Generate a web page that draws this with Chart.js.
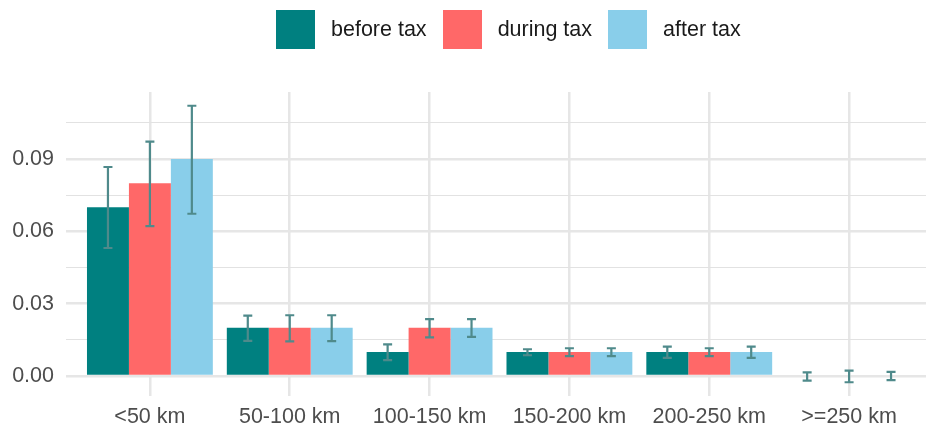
<!DOCTYPE html>
<html>
<head>
<meta charset="utf-8">
<script src="https://cdn.jsdelivr.net/npm/chart.js@4"></script>
<style>
  body { margin: 0; background: #fff; }
  #wrap { position: relative; width: 926px; height: 430px; }
  #legend {
    position: absolute; top: 10px; left: 276px;
    display: flex; align-items: center;
    font-family: "Liberation Sans", Arial, sans-serif; font-size: 21.5px; color: #1a1a1a;
  }
  .item { display: flex; align-items: center; margin-right: 16px; }
  .box { width: 39px; height: 39px; margin-right: 16px; }
</style>
</head>
<body>
<div id="wrap">
  <canvas id="chart" width="926" height="430"></canvas>
  <div id="legend"></div>
</div>
<script>
// categories and values
const categories = ['<50 km', '50-100 km', '100-150 km', '150-200 km', '200-250 km', '>=250 km'];
const seriesNames = ['before tax', 'during tax', 'after tax'];
const seriesColors = ['#008080', '#ff6868', '#89ceea'];

const beforeTax = [0.07, 0.02, 0.01, 0.01, 0.01, 0];
const duringTax = [0.08, 0.02, 0.02, 0.01, 0.01, 0];
const afterTax  = [0.09, 0.02, 0.02, 0.01, 0.01, 0];

// error bar ends
const beforeLow  = [0.0531, 0.0146, 0.0066, 0.0086, 0.0075, -0.0019];
const beforeHigh = [0.0867, 0.0250, 0.0131, 0.0111, 0.0122, 0.0015];
const duringLow  = [0.0622, 0.0144, 0.0160, 0.0082, 0.0082, -0.0026];
const duringHigh = [0.0972, 0.0252, 0.0236, 0.0115, 0.0115, 0.0022];
const afterLow   = [0.0673, 0.0145, 0.0162, 0.0082, 0.0075, -0.0017];
const afterHigh  = [0.1121, 0.0252, 0.0236, 0.0115, 0.0122, 0.0017];

const yTicks = [0, 0.03, 0.06, 0.09];
const yMinorTicks = [0.015, 0.045, 0.075, 0.105];

const FONT = '"Liberation Sans", Arial, sans-serif';

// html legend
const legendEl = document.getElementById('legend');
seriesNames.forEach((name, i) => {
  const item = document.createElement('div');
  item.className = 'item';
  item.innerHTML = '<div class="box" style="background:' + seriesColors[i] + '"></div><span>' + name + '</span>';
  legendEl.appendChild(item);
});

const toPoints = arr => arr.map((v, i) => ({ x: i, y: v }));

// draws the whiskers using the chart's own scales
const errorBars = {
  id: 'errorBars',
  afterDatasetsDraw(chart) {
    const ctx = chart.ctx;
    const yScale = chart.scales.y;
    ctx.save();
    ctx.strokeStyle = '#4f8a8b';
    ctx.lineWidth = 2.2;
    chart.data.datasets.forEach((ds, di) => {
      const meta = chart.getDatasetMeta(di);
      meta.data.forEach((bar, i) => {
        const x = bar.x;
        const yLo = yScale.getPixelForValue(ds.errLow[i]);
        const yHi = yScale.getPixelForValue(ds.errHigh[i]);
        ctx.beginPath();
        ctx.moveTo(x, yLo); ctx.lineTo(x, yHi);
        ctx.moveTo(x - 4.5, yLo); ctx.lineTo(x + 4.5, yLo);
        ctx.moveTo(x - 4.5, yHi); ctx.lineTo(x + 4.5, yHi);
        ctx.stroke();
      });
    });
    ctx.restore();
  }
};

const ctx = document.getElementById('chart').getContext('2d');
new Chart(ctx, {
  type: 'bar',
  data: {
    datasets: [
      { label: seriesNames[0], data: toPoints(beforeTax), backgroundColor: seriesColors[0], errLow: beforeLow, errHigh: beforeHigh },
      { label: seriesNames[1], data: toPoints(duringTax), backgroundColor: seriesColors[1], errLow: duringLow, errHigh: duringHigh },
      { label: seriesNames[2], data: toPoints(afterTax), backgroundColor: seriesColors[2], errLow: afterLow, errHigh: afterHigh }
    ]
  },
  options: {
    responsive: false,
    animation: false,
    layout: { padding: { top: 92, left: 0, right: 0, bottom: 0 } },
    datasets: {
      bar: { categoryPercentage: 0.9, barPercentage: 1.0, borderWidth: 0 }
    },
    scales: {
      x: {
        type: 'linear',
        offset: false,
        min: -0.6,
        max: 5.55,
        afterBuildTicks: scale => { scale.ticks = categories.map((c, i) => ({ value: i })); },
        afterFit: scale => { scale.height = 34; },
        border: { display: false },
        grid: { offset: false, color: '#e6e6e6', lineWidth: 2.5, drawTicks: false },
        ticks: {
          autoSkip: false,
          maxRotation: 0,
          padding: 8,
          color: '#4d4d4d',
          font: { family: FONT, size: 21.5 },
          callback: v => categories[v]
        }
      },
      y: {
        min: -0.0083,
        max: 0.1178,
        afterBuildTicks: scale => {
          scale.ticks = yTicks.concat(yMinorTicks).sort((a, b) => a - b).map(v => ({ value: v }));
        },
        afterFit: scale => { scale.width = 66; },
        border: { display: false },
        grid: {
          drawTicks: false,
          color: ctx => (ctx.tick && yTicks.includes(ctx.tick.value)) ? '#e6e6e6' : '#e2e2e2',
          lineWidth: ctx => (ctx.tick && yTicks.includes(ctx.tick.value)) ? 2.5 : 1
        },
        ticks: {
          padding: 12,
          color: '#4d4d4d',
          font: { family: FONT, size: 21.5 },
          callback: v => yTicks.includes(v) ? v.toFixed(2) : ''
        }
      }
    },
    plugins: {
      legend: { display: false },
      tooltip: { enabled: false }
    }
  },
  plugins: [errorBars]
});
</script>
</body>
</html>
